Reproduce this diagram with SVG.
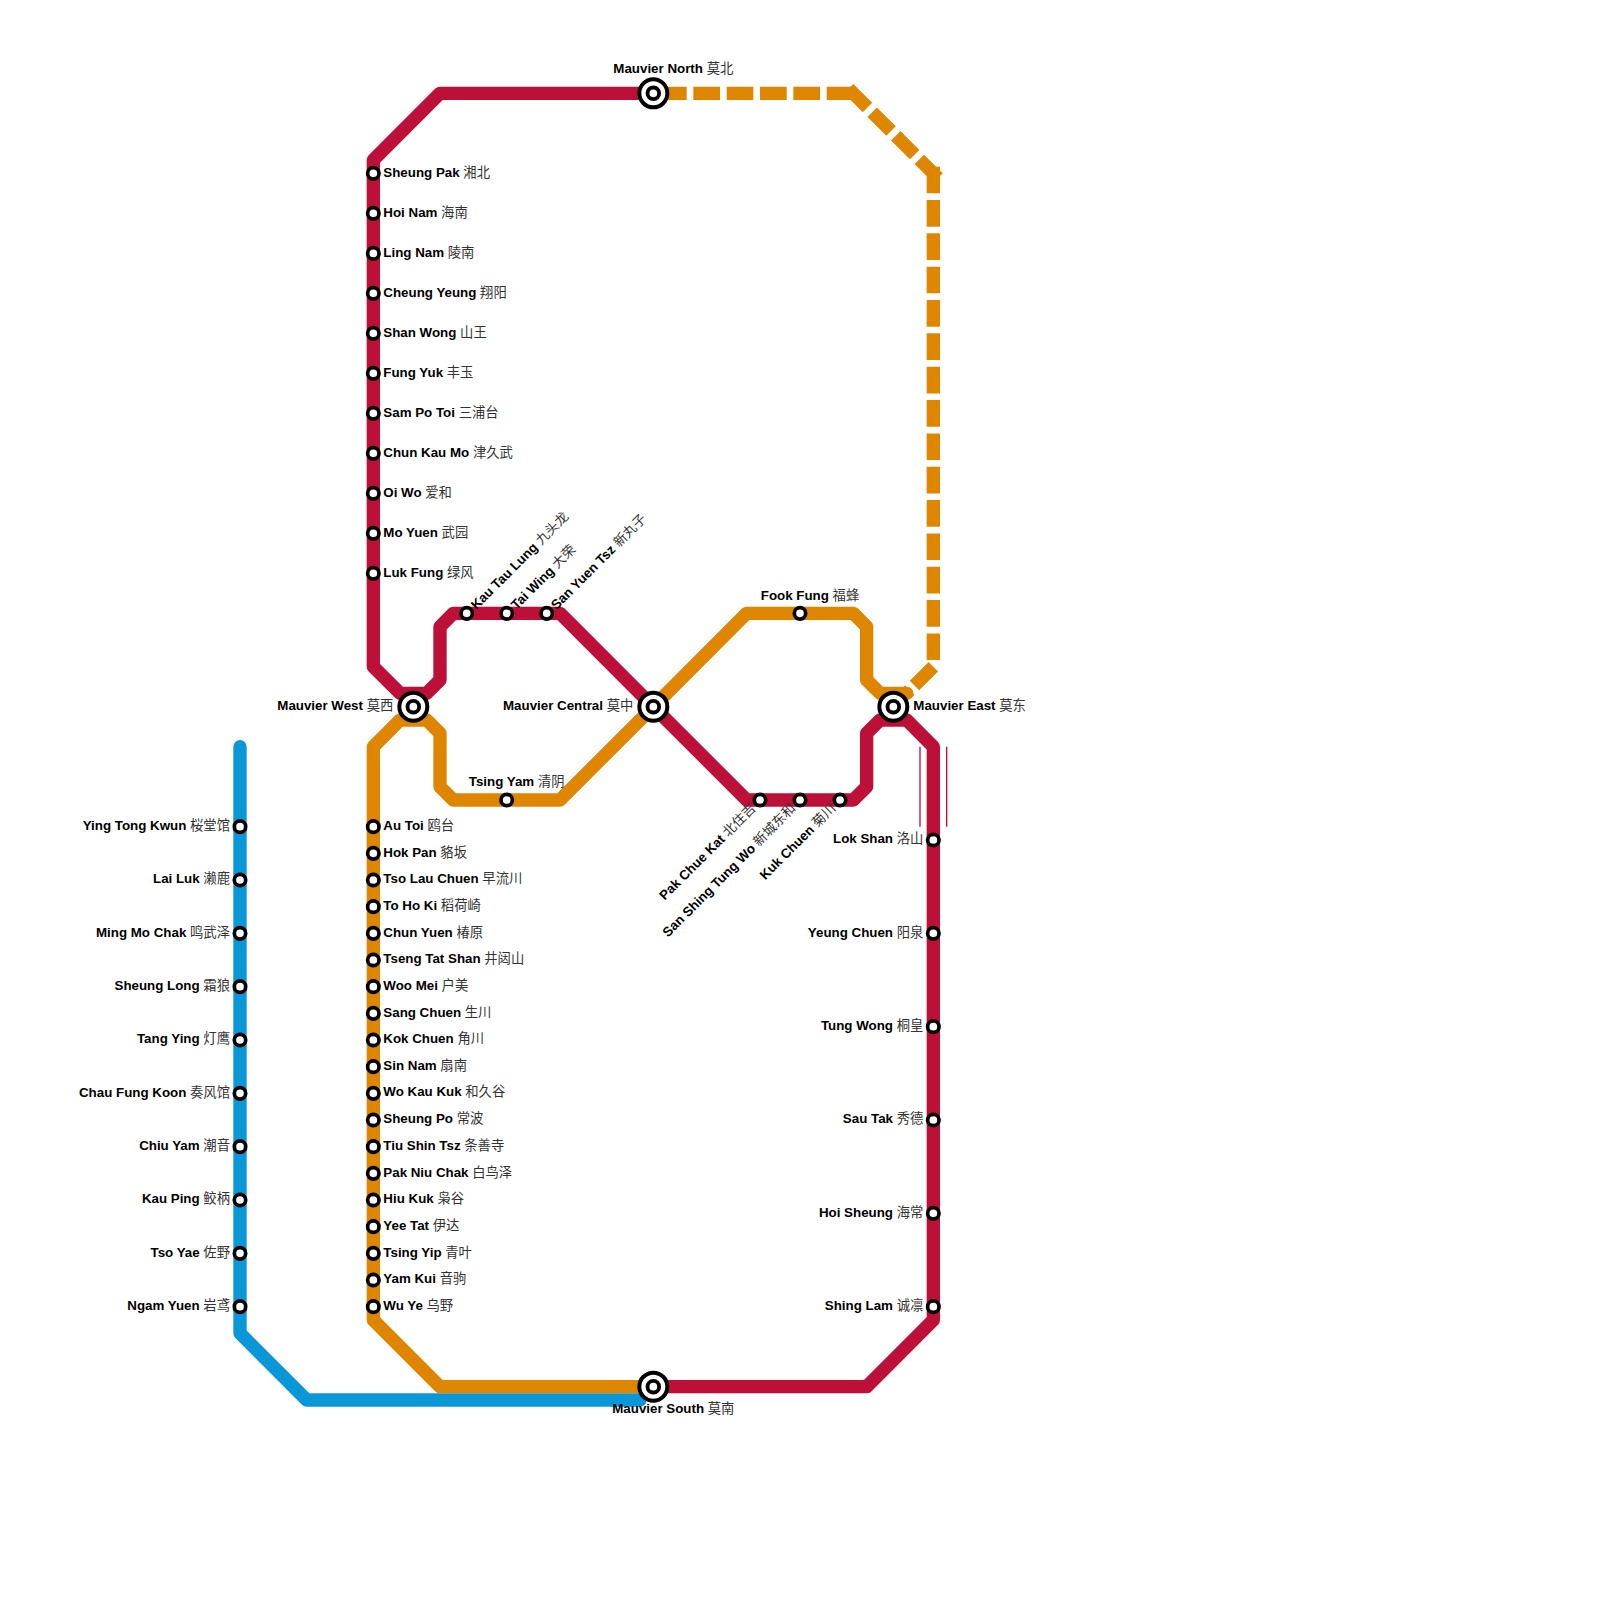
<svg xmlns="http://www.w3.org/2000/svg" width="1600" height="1600" viewBox="0 0 1600 1600">
<style>
.line{fill:none;stroke-width:13.33;stroke-linejoin:round;stroke-linecap:round}
.red{stroke:#bd1038}.org{stroke:#df8600}.blu{stroke:#0997d8}
.dash{fill:none;stroke:#df8600;stroke-width:13.33;stroke-dasharray:26.67 6.67;stroke-linecap:butt}
.thin{fill:none;stroke:#bd1038;stroke-width:1.33}
.st{fill:#fff;stroke:#000;stroke-width:3.7}
.hub{fill:#fff;stroke:#000;stroke-width:4}
.hubi{fill:#fff;stroke:#000;stroke-width:3.9}
text{font-family:"Liberation Sans","Noto Sans CJK SC",sans-serif;font-size:13.33px;font-weight:700;fill:#000}
.c{font-family:"Noto Sans CJK SC","Liberation Sans",sans-serif;font-weight:400;fill:#333}
.e{text-anchor:end}.m{text-anchor:middle}
</style>
<defs>
<circle id="s" class="st" r="5.7"/>
<g id="h"><circle class="hub" r="14"/><circle class="hubi" r="5.8"/></g>
</defs>
<g id="connectors">
<path class="line blu" d="M240 746.67V1333.33L306.67 1400H640"/>
<path class="line red" d="M653.33 93.33H440L373.33 160V666.67L400 693.33H426.67L440 680V626.67L453.33 613.33H560L653.33 706.67L746.67 800H853.33L866.67 786.67V733.33L880 720H906.67L933.33 746.67V1320L866.67 1386.67H653.33"/>
<path class="line org" d="M653.33 1386.67H440L373.33 1320V746.67L400 720H426.67L440 733.33V786.67L453.33 800H560L653.33 706.67L746.67 613.33H853.33L866.67 626.67V680L880 693.33H906.67"/>
<path class="dash" d="M660 93.33H853.33"/>
<path class="dash" d="M848.62 88.62L938.05 178.05"/>
<path class="dash" d="M933.33 166.67V660"/>
<path class="dash" d="M933.33 666.67L906.67 693.33"/>
<path class="thin" d="M920 746.67V826.67M946.67 746.67V826.67"/>
</g>
<g id="mauvier-north"><use href="#h" x="653.33" y="93.33"/><text class="m" x="673.33" y="72.8">Mauvier North <tspan class="c">莫北</tspan></text></g>
<g id="mauvier-south"><use href="#h" x="653.33" y="1386.67"/><text class="m" x="673.33" y="1413.2">Mauvier South <tspan class="c">莫南</tspan></text></g>
<g id="mauvier-west"><use href="#h" x="413.33" y="706.67"/><text class="e" x="393.33" y="710">Mauvier West <tspan class="c">莫西</tspan></text></g>
<g id="mauvier-central"><use href="#h" x="653.33" y="706.67"/><text class="e" x="633.33" y="710">Mauvier Central <tspan class="c">莫中</tspan></text></g>
<g id="mauvier-east"><use href="#h" x="893.33" y="706.67"/><text x="913.33" y="710">Mauvier East <tspan class="c">莫东</tspan></text></g>
<g id="sheung-pak"><use href="#s" x="373.33" y="173.33"/><text x="383.33" y="176.5">Sheung Pak <tspan class="c">湘北</tspan></text></g>
<g id="hoi-nam"><use href="#s" x="373.33" y="213.33"/><text x="383.33" y="216.5">Hoi Nam <tspan class="c">海南</tspan></text></g>
<g id="ling-nam"><use href="#s" x="373.33" y="253.33"/><text x="383.33" y="256.5">Ling Nam <tspan class="c">陵南</tspan></text></g>
<g id="cheung-yeung"><use href="#s" x="373.33" y="293.33"/><text x="383.33" y="296.5">Cheung Yeung <tspan class="c">翔阳</tspan></text></g>
<g id="shan-wong"><use href="#s" x="373.33" y="333.33"/><text x="383.33" y="336.5">Shan Wong <tspan class="c">山王</tspan></text></g>
<g id="fung-yuk"><use href="#s" x="373.33" y="373.33"/><text x="383.33" y="376.5">Fung Yuk <tspan class="c">丰玉</tspan></text></g>
<g id="sam-po-toi"><use href="#s" x="373.33" y="413.33"/><text x="383.33" y="416.5">Sam Po Toi <tspan class="c">三浦台</tspan></text></g>
<g id="chun-kau-mo"><use href="#s" x="373.33" y="453.33"/><text x="383.33" y="456.5">Chun Kau Mo <tspan class="c">津久武</tspan></text></g>
<g id="oi-wo"><use href="#s" x="373.33" y="493.33"/><text x="383.33" y="496.5">Oi Wo <tspan class="c">爱和</tspan></text></g>
<g id="mo-yuen"><use href="#s" x="373.33" y="533.33"/><text x="383.33" y="536.5">Mo Yuen <tspan class="c">武园</tspan></text></g>
<g id="luk-fung"><use href="#s" x="373.33" y="573.33"/><text x="383.33" y="576.5">Luk Fung <tspan class="c">绿风</tspan></text></g>
<g id="kau-tau-lung"><use href="#s" x="466.67" y="613.33"/><text transform="translate(466.67 613.33) rotate(-45)" x="9" y="4.8">Kau Tau Lung <tspan class="c">九头龙</tspan></text></g>
<g id="tai-wing"><use href="#s" x="506.67" y="613.33"/><text transform="translate(506.67 613.33) rotate(-45)" x="9" y="4.8">Tai Wing <tspan class="c">大荣</tspan></text></g>
<g id="san-yuen-tsz"><use href="#s" x="546.67" y="613.33"/><text transform="translate(546.67 613.33) rotate(-45)" x="9" y="4.8">San Yuen Tsz <tspan class="c">新丸子</tspan></text></g>
<g id="tsing-yam"><use href="#s" x="506.67" y="800"/><text class="m" x="516.67" y="786">Tsing Yam <tspan class="c">清阴</tspan></text></g>
<g id="fook-fung"><use href="#s" x="800" y="613.33"/><text class="m" x="810" y="600">Fook Fung <tspan class="c">福蜂</tspan></text></g>
<g id="pak-chue-kat"><use href="#s" x="760" y="800"/><text class="e" transform="translate(760 800) rotate(-45)" x="-9" y="4">Pak Chue Kat <tspan class="c">北住吉</tspan></text></g>
<g id="san-shing-tung-wo"><use href="#s" x="800" y="800"/><text class="e" transform="translate(800 800) rotate(-45)" x="-9" y="4">San Shing Tung Wo <tspan class="c">新城东和</tspan></text></g>
<g id="kuk-chuen"><use href="#s" x="840" y="800"/><text class="e" transform="translate(840 800) rotate(-45)" x="-9" y="4">Kuk Chuen <tspan class="c">菊川</tspan></text></g>
<g id="au-toi"><use href="#s" x="373.33" y="826.67"/><text x="383.33" y="830">Au Toi <tspan class="c">鸥台</tspan></text></g>
<g id="hok-pan"><use href="#s" x="373.33" y="853.33"/><text x="383.33" y="856.5">Hok Pan <tspan class="c">貉坂</tspan></text></g>
<g id="tso-lau-chuen"><use href="#s" x="373.33" y="880"/><text x="383.33" y="883.3">Tso Lau Chuen <tspan class="c">早流川</tspan></text></g>
<g id="to-ho-ki"><use href="#s" x="373.33" y="906.67"/><text x="383.33" y="910">To Ho Ki <tspan class="c">稻荷崎</tspan></text></g>
<g id="chun-yuen"><use href="#s" x="373.33" y="933.33"/><text x="383.33" y="936.5">Chun Yuen <tspan class="c">椿原</tspan></text></g>
<g id="tseng-tat-shan"><use href="#s" x="373.33" y="960"/><text x="383.33" y="963.3">Tseng Tat Shan <tspan class="c">井闼山</tspan></text></g>
<g id="woo-mei"><use href="#s" x="373.33" y="986.67"/><text x="383.33" y="990">Woo Mei <tspan class="c">户美</tspan></text></g>
<g id="sang-chuen"><use href="#s" x="373.33" y="1013.33"/><text x="383.33" y="1016.5">Sang Chuen <tspan class="c">生川</tspan></text></g>
<g id="kok-chuen"><use href="#s" x="373.33" y="1040"/><text x="383.33" y="1043.3">Kok Chuen <tspan class="c">角川</tspan></text></g>
<g id="sin-nam"><use href="#s" x="373.33" y="1066.67"/><text x="383.33" y="1070">Sin Nam <tspan class="c">扇南</tspan></text></g>
<g id="wo-kau-kuk"><use href="#s" x="373.33" y="1093.33"/><text x="383.33" y="1096.4">Wo Kau Kuk <tspan class="c">和久谷</tspan></text></g>
<g id="sheung-po"><use href="#s" x="373.33" y="1120"/><text x="383.33" y="1123.3">Sheung Po <tspan class="c">常波</tspan></text></g>
<g id="tiu-shin-tsz"><use href="#s" x="373.33" y="1146.67"/><text x="383.33" y="1150">Tiu Shin Tsz <tspan class="c">条善寺</tspan></text></g>
<g id="pak-niu-chak"><use href="#s" x="373.33" y="1173.33"/><text x="383.33" y="1176.5">Pak Niu Chak <tspan class="c">白鸟泽</tspan></text></g>
<g id="hiu-kuk"><use href="#s" x="373.33" y="1200"/><text x="383.33" y="1203.3">Hiu Kuk <tspan class="c">枭谷</tspan></text></g>
<g id="yee-tat"><use href="#s" x="373.33" y="1226.67"/><text x="383.33" y="1230">Yee Tat <tspan class="c">伊达</tspan></text></g>
<g id="tsing-yip"><use href="#s" x="373.33" y="1253.33"/><text x="383.33" y="1256.5">Tsing Yip <tspan class="c">青叶</tspan></text></g>
<g id="yam-kui"><use href="#s" x="373.33" y="1280"/><text x="383.33" y="1283.3">Yam Kui <tspan class="c">音驹</tspan></text></g>
<g id="wu-ye"><use href="#s" x="373.33" y="1306.67"/><text x="383.33" y="1310">Wu Ye <tspan class="c">乌野</tspan></text></g>
<g id="ying-tong-kwun"><use href="#s" x="240" y="826.67"/><text class="e" x="230" y="830">Ying Tong Kwun <tspan class="c">桜堂馆</tspan></text></g>
<g id="lai-luk"><use href="#s" x="240" y="880"/><text class="e" x="230" y="883.3">Lai Luk <tspan class="c">濑鹿</tspan></text></g>
<g id="ming-mo-chak"><use href="#s" x="240" y="933.33"/><text class="e" x="230" y="936.5">Ming Mo Chak <tspan class="c">鸣武泽</tspan></text></g>
<g id="sheung-long"><use href="#s" x="240" y="986.67"/><text class="e" x="230" y="990">Sheung Long <tspan class="c">霜狼</tspan></text></g>
<g id="tang-ying"><use href="#s" x="240" y="1040"/><text class="e" x="230" y="1043.3">Tang Ying <tspan class="c">灯鹰</tspan></text></g>
<g id="chau-fung-koon"><use href="#s" x="240" y="1093.33"/><text class="e" x="230" y="1096.5">Chau Fung Koon <tspan class="c">奏风馆</tspan></text></g>
<g id="chiu-yam"><use href="#s" x="240" y="1146.67"/><text class="e" x="230" y="1150">Chiu Yam <tspan class="c">潮音</tspan></text></g>
<g id="kau-ping"><use href="#s" x="240" y="1200"/><text class="e" x="230" y="1203.3">Kau Ping <tspan class="c">鲛柄</tspan></text></g>
<g id="tso-yae"><use href="#s" x="240" y="1253.33"/><text class="e" x="230" y="1256.5">Tso Yae <tspan class="c">佐野</tspan></text></g>
<g id="ngam-yuen"><use href="#s" x="240" y="1306.67"/><text class="e" x="230" y="1310">Ngam Yuen <tspan class="c">岩鸢</tspan></text></g>
<g id="lok-shan"><use href="#s" x="933.33" y="840"/><text class="e" x="923.33" y="843.3">Lok Shan <tspan class="c">洛山</tspan></text></g>
<g id="yeung-chuen"><use href="#s" x="933.33" y="933.33"/><text class="e" x="923.33" y="936.5">Yeung Chuen <tspan class="c">阳泉</tspan></text></g>
<g id="tung-wong"><use href="#s" x="933.33" y="1026.67"/><text class="e" x="923.33" y="1030">Tung Wong <tspan class="c">桐皇</tspan></text></g>
<g id="sau-tak"><use href="#s" x="933.33" y="1120"/><text class="e" x="923.33" y="1123.3">Sau Tak <tspan class="c">秀德</tspan></text></g>
<g id="hoi-sheung"><use href="#s" x="933.33" y="1213.33"/><text class="e" x="923.33" y="1216.5">Hoi Sheung <tspan class="c">海常</tspan></text></g>
<g id="shing-lam"><use href="#s" x="933.33" y="1306.67"/><text class="e" x="923.33" y="1310">Shing Lam <tspan class="c">诚凛</tspan></text></g>
</svg>
